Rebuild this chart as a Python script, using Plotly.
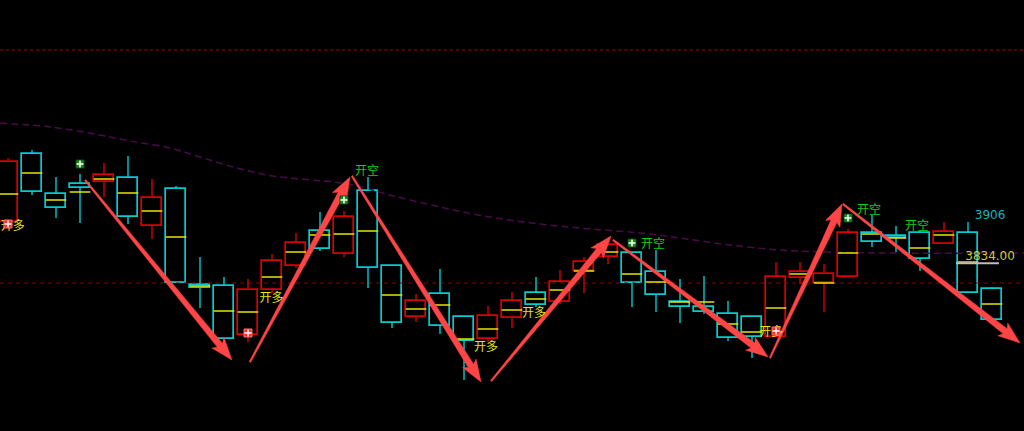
import plotly.graph_objects as go
import math

# ---------------- data ----------------
opens = [3895.5, 4014.5, 3944.5, 3962, 3965.5, 3972.5, 3888.5, 3953.25, 3785.25, 3783.5,
         3697.75, 3776.5, 3818.5, 3879.75, 3839.5, 3949.75, 3818.5, 3729.25, 3769.5, 3729.25,
         3690.75, 3727.5, 3771.25, 3755.5, 3809.75, 3834.25, 3841.25, 3808, 3755.5, 3746.75,
         3734.5, 3729.25, 3694.25, 3797.5, 3788.75, 3799.25, 3876.25, 3871, 3876.25, 3857,
         3876.25, 3778.25]
closes = [4000.5, 3948, 3920, 3955, 3977.75, 3904.25, 3937.5, 3788.75, 3780, 3690.75,
          3776.5, 3827.25, 3858.75, 3848.25, 3904.25, 3815, 3718.75, 3757.25, 3713.5, 3687.25,
          3731, 3757.25, 3750.25, 3790.5, 3825.5, 3855.25, 3788.75, 3767.75, 3746.75, 3738,
          3692.5, 3694.25, 3799.25, 3808, 3804.5, 3876.25, 3860.5, 3867.5, 3830.75, 3878,
          3771.25, 3724]
highs = [4007.5, 4021.5, 3974.25, 3979.5, 3998.75, 4011, 3970.75, 3958.5, 3834.25, 3799.25,
         3795.75, 3839.5, 3876.25, 3913, 3914.75, 3974.25, 3818.5, 3769.5, 3813.25, 3729.25,
         3748.5, 3773, 3799.25, 3811.5, 3834.25, 3864, 3841.25, 3846.5, 3795.75, 3801,
         3757.25, 3729.25, 3825.5, 3825.5, 3822, 3883.25, 3907.75, 3888.5, 3879.75, 3895.5,
         3895.5, 3781.75]
lows = [3888.5, 3942.75, 3902.5, 3893.75, 3939.25, 3892, 3865.75, 3788.75, 3745, 3687.25,
        3685.5, 3771.25, 3815, 3844.75, 3834.25, 3780, 3710, 3720.5, 3699.5, 3619,
        3685.5, 3710, 3746.75, 3752, 3771.25, 3822, 3746.75, 3738, 3718.75, 3734.5,
        3687.25, 3657.5, 3694.25, 3787, 3738, 3799.25, 3851.75, 3843, 3809.75, 3857,
        3771.25, 3724]
mids = [3944.5, 3981.25, 3934, 3948, 3970.75, 3946.25, 3914.75, 3869.25, 3783.5, 3739.75,
        3738, 3799.25, 3843, 3872.75, 3874.5, 3879.75, 3767.75, 3743.25, 3750.25, 3690.75,
        3708.25, 3741.5, 3760.75, 3776.5, 3809.75, 3843, 3804.5, 3790.5, 3755.5, 3755.5,
        3717, 3703, 3745, 3804.5, 3788.75, 3841.25, 3874.5, 3867.5, 3850, 3872.75,
        3825.5, 3752]
idx = list(range(len(opens)))

# moving-average style dashed curve
ma_x = [-0.33, 1.75, 3.83, 5.08, 6.75, 8, 9.38, 10.79, 12.17, 13.54, 14.38, 15.92, 18,
        20.08, 22.17, 24.25, 26.33, 28, 30.08, 32.17, 34.25, 36.33, 42.33]
ma_y = [4068.75, 4061.75, 4047.75, 4037.25, 4025, 4009.25, 3991.75, 3977.75, 3970.75,
        3965.5, 3960.25, 3942.75, 3921.75, 3904.25, 3892, 3883.25, 3876.25, 3867.5,
        3855.25, 3846.5, 3843, 3841.25, 3841.25]

# horizontal reference levels
upper_level = 4196.5
mid_level = 3788.75

# trend arrows (start index, start price, end index, end price)
arrow_x0 = [3.21, 10.08, 14.33, 20.13, 25.21, 31.75, 34.79]
arrow_y0 = [3969, 3650.5, 3976, 3617.25, 3864, 3657.5, 3927]
arrow_x1 = [9.33, 14.25, 19.71, 25.13, 31.67, 34.75, 42.17]
arrow_y1 = [3654, 3974.25, 3615.5, 3871, 3659.25, 3927, 3683.75]

# signal markers
buy_mark_x = [0, 10, 32]
buy_mark_y = [3892, 3701.25, 3704.75]
sell_mark_x = [3, 14, 26, 35]
sell_mark_y = [3997, 3934, 3858.75, 3902.5]

# signal labels
long_lbl_x = [0.2, 10.98, 19.92, 21.92, 31.8]
long_lbl_y = [3886.75, 3760.75, 3675, 3734.5, 3701.25]
short_lbl_x = [14.96, 26.88, 35.88, 37.88]
short_lbl_y = [3983, 3855.25, 3914.75, 3886.75]
long_text = "开多"
short_text = "开空"

price_a = 3906
price_b = 3834.00

# ---------------- styling ----------------
W, H = 1024, 431
XR = [-1/3, 42 + 1/3]
YR = [3529.75, 4284]
px_x = W / (XR[1] - XR[0])
px_y = H / (YR[1] - YR[0])

CYAN = "#00cdd2"
RED = "#d80000"
YEL = "#e6e600"
ARROW = "#ff4545"

fig = go.Figure()

# reference lines
fig.add_trace(go.Scatter(x=[XR[0], XR[1]], y=[upper_level, upper_level], mode="lines",
                         line=dict(color="#6a0000", width=1.5, dash="3px,3px"), hoverinfo="skip"))
fig.add_trace(go.Scatter(x=[XR[0], XR[1]], y=[mid_level, mid_level], mode="lines",
                         line=dict(color="#900000", width=1, dash="4px,4px"), hoverinfo="skip"))
fig.add_trace(go.Scatter(x=ma_x, y=ma_y, mode="lines", line_shape="spline",
                         line=dict(color="#4a0a4a", width=1.5, dash="7px,4px"), hoverinfo="skip"))

# wicks
for color, up in ((RED, True), (CYAN, False)):
    wx, wy = [], []
    for i in idx:
        if (closes[i] > opens[i]) != up:
            continue
        top = max(opens[i], closes[i])
        bot = min(opens[i], closes[i])
        if highs[i] > top:
            wx += [i, i, None]
            wy += [highs[i], top, None]
        if lows[i] < bot:
            wx += [i, i, None]
            wy += [bot, lows[i], None]
    fig.add_trace(go.Scatter(x=wx, y=wy, mode="lines", line=dict(color=color, width=1.4),
                             hoverinfo="skip"))

# bodies (hollow)
for color, up in ((RED, True), (CYAN, False)):
    bx, bb, bh = [], [], []
    for i in idx:
        if (closes[i] > opens[i]) != up:
            continue
        bx.append(i)
        bb.append(min(opens[i], closes[i]))
        bh.append(max(abs(closes[i] - opens[i]), 0.8))
    fig.add_trace(go.Bar(x=bx, y=bh, base=bb, width=0.86,
                         marker=dict(color="rgba(0,0,0,0)", line=dict(color=color, width=1.7)),
                         hoverinfo="skip"))

# yellow mid segments
yx, yy = [], []
for i in idx:
    yx += [i - 0.43, i + 0.43, None]
    yy += [mids[i], mids[i], None]
fig.add_trace(go.Scatter(x=yx, y=yy, mode="lines", line=dict(color=YEL, width=1.5),
                         hoverinfo="skip"))

# arrows as tapered polygons
ax, ay = [], []
for x0, y0, x1, y1 in zip(arrow_x0, arrow_y0, arrow_x1, arrow_y1):
    X0, Y0 = x0 * px_x, y0 * px_y
    X1, Y1 = x1 * px_x, y1 * px_y
    dx, dy = X1 - X0, Y1 - Y0
    L = math.hypot(dx, dy)
    ux, uy = dx / L, dy / L
    nx, ny = -uy, ux
    hl, hw, w0, w1 = 19, 8, 0.8, 3.2
    NX, NY = X1 - ux * hl, Y1 - uy * hl
    pts = [(X0 + nx * w0, Y0 + ny * w0), (NX + nx * w1, NY + ny * w1),
           (NX - ux * 3 + nx * hw, NY - uy * 3 + ny * hw), (X1, Y1),
           (NX - ux * 3 - nx * hw, NY - uy * 3 - ny * hw), (NX - nx * w1, NY - ny * w1),
           (X0 - nx * w0, Y0 - ny * w0), (X0 + nx * w0, Y0 + ny * w0)]
    for X, Y in pts:
        ax.append(X / px_x)
        ay.append(Y / px_y)
    ax.append(None)
    ay.append(None)
fig.add_trace(go.Scatter(x=ax, y=ay, mode="lines", fill="toself", fillcolor=ARROW,
                         line=dict(color=ARROW, width=0.5), hoverinfo="skip"))

# labels
fig.add_trace(go.Scatter(x=long_lbl_x, y=long_lbl_y, mode="text",
                         text=[long_text] * len(long_lbl_x),
                         textfont=dict(color="#e8e800", size=12, family="Noto Sans CJK SC"),
                         hoverinfo="skip"))
fig.add_trace(go.Scatter(x=short_lbl_x, y=short_lbl_y, mode="text",
                         text=[short_text] * len(short_lbl_x),
                         textfont=dict(color="#10d010", size=12, family="Noto Sans CJK SC"),
                         hoverinfo="skip"))

# signal markers
fig.add_trace(go.Scatter(x=sell_mark_x, y=sell_mark_y, mode="markers",
                         marker=dict(symbol="square", size=8, color="#1b8c1b",
                                     line=dict(color="#0c4a0c", width=1)), hoverinfo="skip"))
fig.add_trace(go.Scatter(x=buy_mark_x, y=buy_mark_y, mode="markers",
                         marker=dict(symbol="square", size=8, color="#ff2a2a",
                                     line=dict(color="#ff7070", width=1)), hoverinfo="skip"))
fig.add_trace(go.Scatter(x=sell_mark_x + buy_mark_x, y=sell_mark_y + buy_mark_y, mode="markers",
                         marker=dict(symbol="cross-thin", size=5, color="white",
                                     line=dict(color="white", width=1.5)), hoverinfo="skip"))

# price labels on the right
fig.add_trace(go.Scatter(x=[40.92], y=[price_a], mode="text", text=[f"{price_a}"],
                         textfont=dict(color="#12b4c8", size=12, family="DejaVu Sans"),
                         hoverinfo="skip"))
fig.add_trace(go.Scatter(x=[40.92], y=[price_b], mode="text", text=[f"{price_b:.2f}"],
                         textfont=dict(color="#cccc30", size=12, family="DejaVu Sans"),
                         hoverinfo="skip"))
fig.add_trace(go.Scatter(x=[39.5, 41.29], y=[price_b - 10.5, price_b - 10.5], mode="lines",
                         line=dict(color="#bdbdbd", width=2), hoverinfo="skip"))

fig.update_layout(
    width=W, height=H, margin=dict(l=0, r=0, t=0, b=0),
    paper_bgcolor="#000000", plot_bgcolor="#000000",
    showlegend=False, bargap=0, barmode="overlay",
    xaxis=dict(range=XR, visible=False, fixedrange=True),
    yaxis=dict(range=YR, visible=False, fixedrange=True),
)
fig.write_html("out.html", config={"displayModeBar": False},
               post_script="document.body.style.margin='0';document.body.style.overflow='hidden';"
                           "document.body.style.background='#000';")
